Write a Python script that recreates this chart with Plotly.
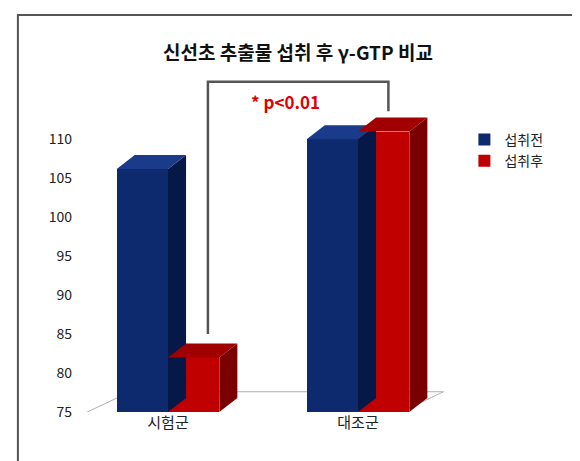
import plotly.graph_objects as go

categories = ["시험군", "대조군"]
series_names = ["섭취전", "섭취후"]
before = [106.2, 110.0]
after = [82.0, 111.0]
yticks = [75, 80, 85, 90, 95, 100, 105, 110]

front = ["#0d2a6e", "#c00000"]
side = ["#061848", "#7a0000"]
top = ["#1a3a8a", "#a00000"]
base = 75
w = 0.27
dx, dy = 0.095, 1.8

fig = go.Figure()
shapes = []
shapes.append(dict(type="path", xref="x", yref="y",
    path=f"M -0.45,{base-0.3} L 1.2,{base-0.3} L 1.45,{base+2.6} L -0.2,{base+2.6} Z",
    fillcolor="rgba(0,0,0,0)", line=dict(color="#b0b0b0", width=1), layer="below"))
xs = [0, 1]
for si, vals in enumerate([before, after]):
    off = -w/2 if si == 0 else w/2
    fig.add_trace(go.Bar(x=[x+off for x in xs], y=[v-base for v in vals], base=base,
        width=w, name=series_names[si], marker=dict(color=front[si], line=dict(width=0))))
    for x, v in zip(xs, vals):
        xl, xr = x+off-w/2, x+off+w/2
        shapes.append(dict(type="path", xref="x", yref="y",
            path=f"M {xr},{base} L {xr+dx},{base+dy} L {xr+dx},{v+dy} L {xr},{v} Z",
            fillcolor=side[si], line=dict(width=0)))
        shapes.append(dict(type="path", xref="x", yref="y",
            path=f"M {xl},{v} L {xl+dx},{v+dy} L {xr+dx},{v+dy} L {xr},{v} Z",
            fillcolor=top[si], line=dict(width=0)))
shapes.append(dict(type="path", xref="x", yref="y",
    path="M 0.21,85 L 0.21,117.4 L 1.16,117.4 L 1.16,113.6",
    line=dict(color="#555555", width=2.5)))
# frame (in pixels relative to paper via domain fractions)
shapes.append(dict(type="rect", xref="paper", yref="paper", x0=-0.145, x1=1.33, y0=-0.15, y1=1.185,
    line=dict(color="#555555", width=2)))

fig.update_layout(
    width=580, height=461, paper_bgcolor="white", plot_bgcolor="white",
    margin=dict(l=65, r=135, t=69, b=57, autoexpand=False),
    title=dict(text="<b>신선초 추출물 섭취 후 γ-GTP 비교</b>", x=0.5, y=0.915, xanchor="center",
               font=dict(size=19, color="#111", family="Noto Sans CJK KR")),
    font=dict(family="Noto Sans CJK KR", color="#222"),
    barmode="overlay", bargap=0,
    xaxis=dict(range=[-0.5, 1.5], tickvals=xs, ticktext=categories, showgrid=False,
               zeroline=False, tickfont=dict(size=15), showline=False),
    yaxis=dict(range=[base, 118], tickvals=yticks, showgrid=False, zeroline=False,
               tickfont=dict(size=14), showline=False),
    legend=dict(x=1.03, y=0.86, xanchor="left", yanchor="top", font=dict(size=14),
                itemwidth=30, tracegroupgap=12),
    shapes=shapes,
    annotations=[dict(x=0.62, y=114.8, xref="x", yref="y", text="<b>* p<0.01</b>",
                      showarrow=False, font=dict(size=17, color="#e00000"))],
)
fig.write_html("out.html")
